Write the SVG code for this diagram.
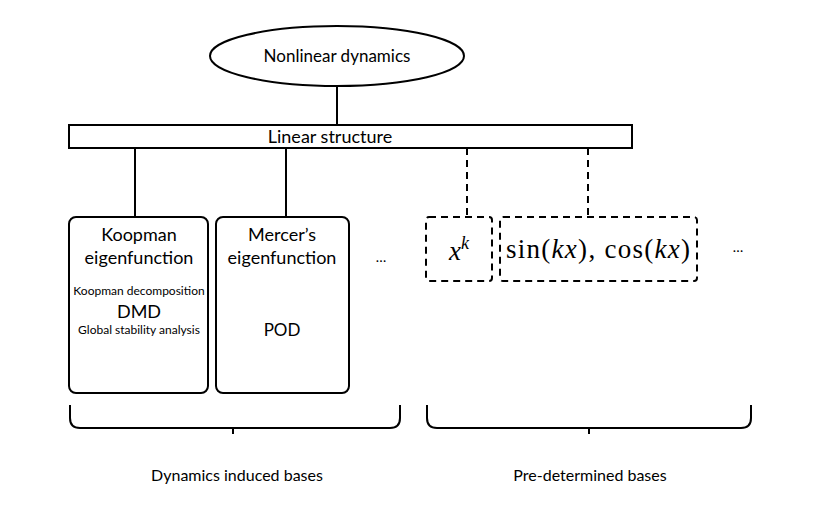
<svg xmlns="http://www.w3.org/2000/svg" width="830" height="520" viewBox="0 0 830 520">
<style>
.s{fill:none;stroke:#000;stroke-width:2}
.d{fill:none;stroke:#000;stroke-width:2;stroke-dasharray:7,5}
.t{font-family:Lato,"Open Sans",sans-serif;fill:#000;text-anchor:middle}
.m{font-family:"Liberation Serif","DejaVu Serif",serif;fill:#000;text-anchor:middle}
</style>
<rect width="830" height="520" fill="#fff"/>
<g id="connectors">
<line class="s" x1="337" y1="86" x2="337" y2="125"/>
<line class="s" x1="135" y1="148" x2="135" y2="217"/>
<line class="s" x1="286" y1="148" x2="286" y2="217"/>
<line class="d" x1="467" y1="148" x2="467" y2="217"/>
<line class="d" x1="588" y1="148" x2="588" y2="217"/>
</g>
<g id="nonlinear">
<ellipse class="s" cx="337" cy="56" rx="127" ry="30" fill="#fff"/>
<text class="t" x="337" y="62" font-size="17">Nonlinear dynamics</text>
</g>
<g id="linear">
<rect class="s" x="69" y="125" width="563" height="23"/>
<text class="t" x="330" y="143" font-size="18">Linear structure</text>
</g>
<g id="koopman">
<rect class="s" x="69" y="217" width="139" height="176" rx="7"/>
<text class="t" x="139" y="241" font-size="18">Koopman</text>
<text class="t" x="139" y="264" font-size="18">eigenfunction</text>
<text class="t" x="139" y="295" font-size="12">Koopman decomposition</text>
<text class="t" x="139" y="318" font-size="18">DMD</text>
<text class="t" x="139" y="334" font-size="12">Global stability analysis</text>
</g>
<g id="mercer">
<rect class="s" x="216" y="217" width="133" height="176" rx="7"/>
<text class="t" x="282" y="241" font-size="18">Mercer’s</text>
<text class="t" x="282" y="264" font-size="18">eigenfunction</text>
<text class="t" x="282" y="336" font-size="17">POD</text>
</g>
<g id="dots1"><text class="t" x="381" y="262" font-size="14">…</text></g>
<g id="xk">
<rect class="d" x="426" y="217" width="66" height="64" rx="3"/>
<text class="m" x="459" y="260" font-size="27"><tspan font-style="italic">x</tspan><tspan font-style="italic" font-size="18" dy="-11">k</tspan></text>
</g>
<g id="sincos">
<rect class="d" x="500" y="217" width="197" height="64" rx="3"/>
<text class="m" x="598" y="258" font-size="27" textLength="184" lengthAdjust="spacing">sin(<tspan font-style="italic">kx</tspan>), cos(<tspan font-style="italic">kx</tspan>)</text>
</g>
<g id="dots2"><text class="t" x="738" y="252" font-size="14">…</text></g>
<g id="brackets">
<path class="s" d="M70,405 V418 Q70,428 80,428 H390 Q400,428 400,418 V405 M233,428 V434"/>
<path class="s" d="M427,405 V418 Q427,428 437,428 H741 Q751,428 751,418 V405 M589,428 V434"/>
</g>
<g id="labels">
<text class="t" x="237" y="481" font-size="16">Dynamics induced bases</text>
<text class="t" x="590" y="481" font-size="16">Pre-determined bases</text>
</g>
</svg>
